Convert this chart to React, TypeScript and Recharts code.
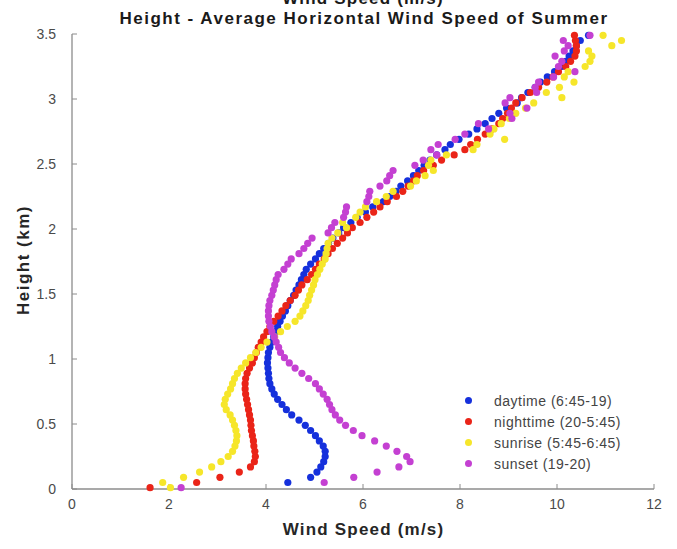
import React from "react";
import { ScatterChart, Scatter, XAxis, YAxis } from "recharts";

const heights = [
  0.01, 0.05, 0.09, 0.13, 0.17, 0.21, 0.25, 0.29, 0.33, 0.37,
  0.41, 0.45, 0.49, 0.53, 0.57, 0.61, 0.65, 0.69, 0.73, 0.77,
  0.81, 0.85, 0.89, 0.93, 0.97, 1.01, 1.05, 1.09, 1.13, 1.17,
  1.21, 1.25, 1.29, 1.33, 1.37, 1.41, 1.45, 1.49, 1.53, 1.57,
  1.61, 1.65, 1.69, 1.73, 1.77, 1.81, 1.85, 1.89, 1.93, 1.97,
  2.01, 2.05, 2.09, 2.13, 2.17, 2.21, 2.25, 2.29, 2.33, 2.37,
  2.41, 2.45, 2.49, 2.53, 2.57, 2.61, 2.65, 2.69, 2.73, 2.77,
  2.81, 2.85, 2.89, 2.93, 2.97, 3.01, 3.05, 3.09, 3.13, 3.17,
  3.21, 3.25, 3.29, 3.33, 3.37, 3.41, 3.45, 3.49,
];

const daytime = [
  null, 4.45, 4.92, 5.05, 5.13, 5.19, 5.22, 5.22, 5.18, 5.10,
  5.02, 4.92, 4.81, 4.68, 4.53, 4.42, 4.33, 4.24, 4.17, 4.12,
  4.08, 4.06, 4.05, 4.04, 4.03, 4.04, 4.05, 4.08, 4.12, 4.16,
  4.20, 4.24, 4.29, 4.34, 4.40, 4.45, 4.50, 4.57, 4.62, 4.68,
  4.73, 4.78, 4.83, 4.92, 5.02, 5.10, 5.19, 5.29, 5.38, 5.50,
  5.60, 5.75, 5.88, 6.05, 6.20, 6.42, 6.55, 6.68, 6.78, 6.92,
  7.04, 7.15, 7.26, 7.38, 7.52, 7.69, 7.80, 7.98, 8.18, 8.35,
  8.52, 8.66, 8.80, 8.96, 9.18, 9.27, 9.40, 9.55, 9.66, 9.80,
  9.95, 10.10, 10.18, 10.25, 10.33, 10.40, 10.48, 10.65,
];

const nighttime = [
  1.61, 2.57, 3.05, 3.45, 3.68, 3.76, 3.78, 3.77, 3.75, 3.74,
  3.72, 3.70, 3.69, 3.68, 3.66, 3.64, 3.62, 3.60, 3.58, 3.57,
  3.57, 3.58, 3.61, 3.66, 3.72, 3.76, 3.80, 3.84, 3.90, 3.95,
  4.02, 4.08, 4.16, 4.25, 4.33, 4.41, 4.50, 4.60, 4.67, 4.74,
  4.85, 4.94, 5.02, 5.10, 5.20, 5.28, 5.37, 5.47, 5.58, 5.68,
  5.78, 5.94, 6.08, 6.22, 6.35, 6.50, 6.69, 6.82, 6.93, 7.04,
  7.12, 7.25, 7.45, 7.62, 7.88, 8.10, 8.22, 8.36, 8.52, 8.66,
  8.80, 8.88, 8.98, 9.06, 9.15, 9.28, 9.45, 9.62, 9.79, 9.92,
  10.03, 10.18, 10.28, 10.37, 10.40, 10.40, 10.38, 10.36,
];

const sunrise = [
  2.03, 1.87, 2.30, 2.63, 2.88, 3.07, 3.22, 3.31, 3.36, 3.39,
  3.40, 3.38, 3.35, 3.31, 3.26, 3.18, 3.14, 3.16, 3.21, 3.27,
  3.31, 3.35, 3.41, 3.49, 3.58, 3.68, 3.79, 3.90, 4.02, 4.18,
  4.30, 4.44, 4.60, 4.70, 4.76, 4.82, 4.87, 4.90, 4.94, 4.98,
  5.01, 5.06, 5.11, 5.16, 5.22, 5.24, 5.26, 5.28, 5.36, 5.48,
  5.66, 5.58, 5.85, 5.94, 6.05, 6.28, 6.48, 6.62, 6.98, 7.10,
  7.28, 7.45, 7.35, 7.40, 7.72, 8.27, 8.35, 8.92, 8.62, 8.70,
  8.85, 9.02, 9.15, 9.35, 9.52, 10.10, 9.78, 10.05, 10.35, 10.15,
  10.23, 10.58, 10.68, 10.72, 10.65, 11.13, 11.33, 10.95,
];

const sunset = [
  2.25, 5.20, 5.81, 6.29, 6.74, 6.97, 6.90, 6.70, 6.48, 6.24,
  5.98, 5.80, 5.64, 5.52, 5.43, 5.36, 5.31, 5.26, 5.18, 5.10,
  5.02, 4.88, 4.74, 4.60, 4.48, 4.38, 4.30, 4.26, 4.21, 4.17,
  4.12, 4.09, 4.06, 4.05, 4.05, 4.06, 4.08, 4.12, 4.15, 4.18,
  4.21, 4.25, 4.37, 4.45, 4.52, 4.68, 4.78, 4.86, 4.95, 5.28,
  5.35, 5.42, 5.60, 5.64, 5.66, 6.08, 6.12, 6.14, 6.35, 6.49,
  6.55, 6.62, 7.07, 7.24, 7.52, 7.40, 7.55, 7.90, 8.10, 8.59,
  8.38, 9.07, 9.03, 9.38, 8.93, 9.03, 9.58, 9.55, 9.62, 9.93,
  10.37, 10.03, 10.10, 9.96, 10.15, 10.23, 10.13, 10.68,
];

const xTicks = [0, 2, 4, 6, 8, 10, 12];
const yTicks = [0, 0.5, 1, 1.5, 2, 2.5, 3, 3.5];

const seriesNames = [
  "daytime (6:45-19)",
  "nighttime (20-5:45)",
  "sunrise (5:45-6:45)",
  "sunset (19-20)",
];
const seriesColors = ["#1530dc", "#ea2418", "#f6e62a", "#c440d2"];
const seriesValues = [daytime, nighttime, sunrise, sunset];

const FONT = '"Liberation Sans", Arial, Helvetica, sans-serif';

function toPoints(speeds: (number | null)[]) {
  const pts: { x: number; y: number }[] = [];
  speeds.forEach((s, i) => {
    if (s !== null && s !== undefined) pts.push({ x: s, y: heights[i] });
  });
  return pts;
}

const makeDot = (color: string) => (props: any) => {
  const { cx, cy } = props;
  if (cx == null || cy == null) return <g />;
  return <circle cx={cx} cy={cy} r={3.6} fill={color} />;
};

export default function App() {
  return (
    <div
      style={{
        position: "absolute",
        left: 0,
        top: 0,
        width: 677,
        height: 549,
        background: "#fff",
        overflow: "hidden",
        fontFamily: FONT,
      }}
    >
      <ScatterChart
        width={677}
        height={549}
        margin={{ top: 34, right: 23, bottom: 30, left: 22 }}
      >
        <XAxis
          type="number"
          dataKey="x"
          domain={[0, 12]}
          ticks={xTicks}
          height={30}
          axisLine={{ stroke: "#8c8c8c", strokeWidth: 1.3 }}
          tickLine={{ stroke: "#8c8c8c" }}
          tickSize={-5}
          tickMargin={15}
          tick={{ fill: "#4a4a4a", fontSize: 14, fontFamily: FONT }}
        />
        <YAxis
          type="number"
          dataKey="y"
          domain={[0, 3.5]}
          ticks={yTicks}
          width={50}
          axisLine={{ stroke: "#8c8c8c", strokeWidth: 1.3 }}
          tickLine={{ stroke: "#8c8c8c" }}
          tickSize={-5}
          tickMargin={21}
          tick={{ fill: "#4a4a4a", fontSize: 14, fontFamily: FONT }}
        />
        {seriesValues.map((vals, i) => (
          <Scatter
            key={seriesNames[i]}
            name={seriesNames[i]}
            data={toPoints(vals)}
            fill={seriesColors[i]}
            shape={makeDot(seriesColors[i])}
            isAnimationActive={false}
          />
        ))}
      </ScatterChart>

      <div
        style={{
          position: "absolute",
          left: 0,
          width: 726,
          top: -10,
          textAlign: "center",
          fontWeight: "bold",
          fontSize: 17,
          letterSpacing: 1.2,
          lineHeight: "17px",
          color: "#1a1a1a",
        }}
      >
        Wind Speed (m/s)
      </div>
      <div
        style={{
          position: "absolute",
          left: 0,
          width: 728,
          top: 9,
          textAlign: "center",
          fontWeight: "bold",
          fontSize: 17,
          letterSpacing: 1.5,
          lineHeight: "19px",
          color: "#1a1a1a",
        }}
      >
        Height - Average Horizontal Wind Speed of Summer
      </div>
      <div
        style={{
          position: "absolute",
          left: 0,
          width: 727,
          top: 520,
          textAlign: "center",
          fontWeight: "bold",
          fontSize: 17,
          letterSpacing: 1.2,
          lineHeight: "19px",
          color: "#262626",
        }}
      >
        Wind Speed (m/s)
      </div>
      <div
        style={{
          position: "absolute",
          left: 24 - 100,
          top: 260 - 10,
          width: 200,
          height: 20,
          textAlign: "center",
          fontWeight: "bold",
          fontSize: 17,
          letterSpacing: 1.5,
          lineHeight: "20px",
          color: "#262626",
          transform: "rotate(-90deg)",
        }}
      >
        Height (km)
      </div>

      <div style={{ position: "absolute", left: 460, top: 390 }}>
        {seriesNames.map((n, i) => (
          <div
            key={n}
            style={{
              display: "flex",
              alignItems: "center",
              height: 21,
              fontSize: 14,
              letterSpacing: 0.5,
              color: "#444",
              whiteSpace: "nowrap",
            }}
          >
            <span
              style={{
                display: "inline-block",
                width: 7,
                height: 7,
                borderRadius: "50%",
                background: seriesColors[i],
                marginLeft: 5,
                marginRight: 22,
              }}
            />
            {n}
          </div>
        ))}
      </div>
    </div>
  );
}
